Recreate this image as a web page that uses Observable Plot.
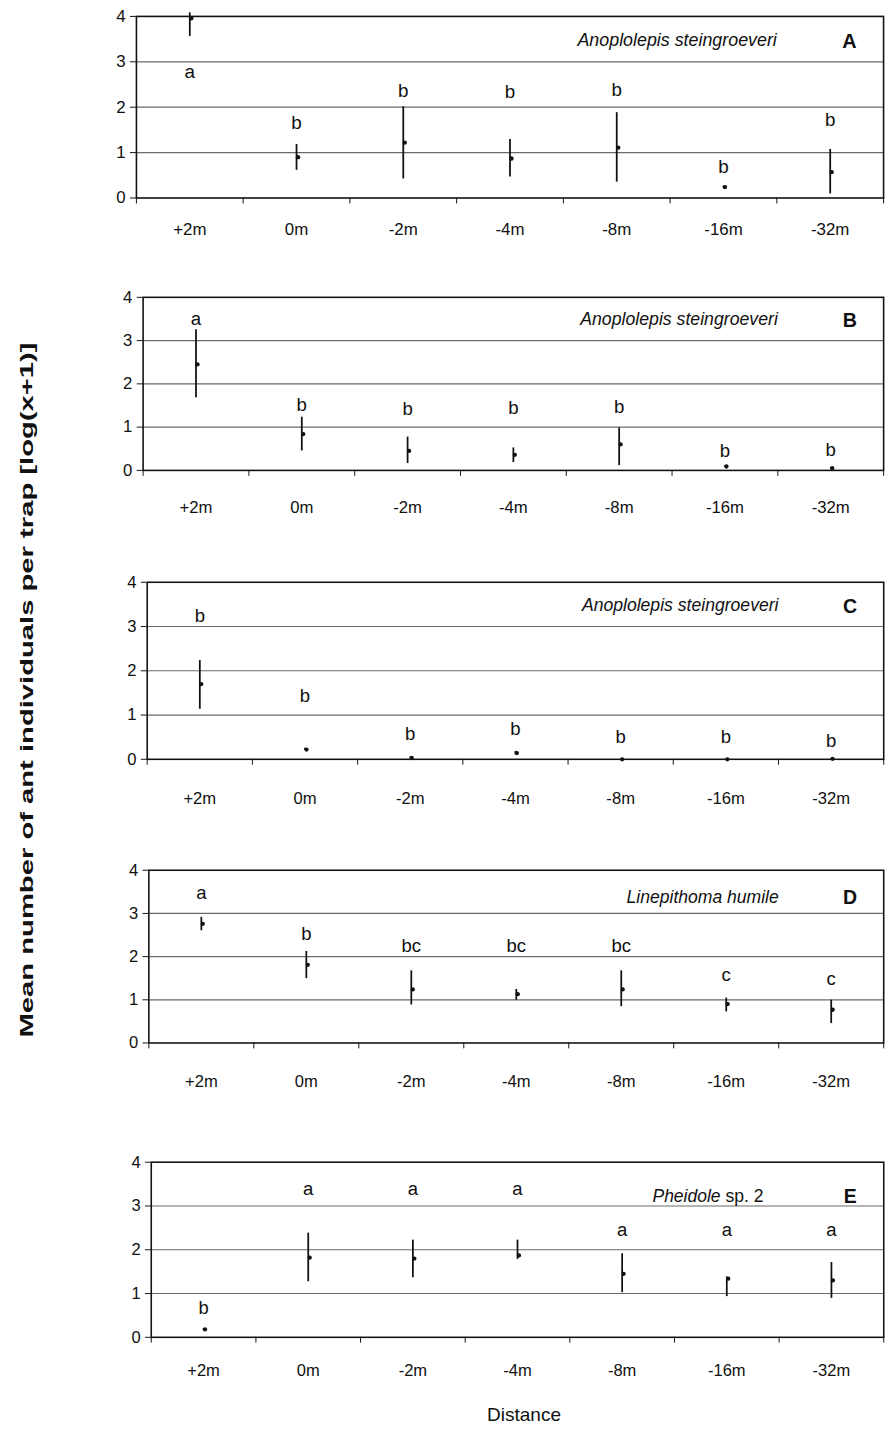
<!DOCTYPE html>
<html><head><meta charset="utf-8">
<script src="https://cdn.jsdelivr.net/npm/d3@7"></script>
<script src="https://cdn.jsdelivr.net/npm/@observablehq/plot@0.6"></script>
<style>
body{margin:0;background:#fff;overflow:hidden;}
#wrap{position:relative;width:893px;height:1430px;overflow:hidden;font-family:"Liberation Sans",Arial,sans-serif;background:#fff;}
.panel{position:absolute;left:0;}
#xtitle{position:absolute;left:0;width:1048px;text-align:center;top:1404px;font-size:19px;color:#111;}
</style></head><body><div id="wrap"><div id="xtitle">Distance</div></div>
<script>
// ---- data ----
const categories = ["+2m", "0m", "-2m", "-4m", "-8m", "-16m", "-32m"];
const yTicks = [0, 1, 2, 3, 4];
const panelIds = ["A", "B", "C", "D", "E"];
const speciesNames = ["Anoplolepis steingroeveri", "Anoplolepis steingroeveri", "Anoplolepis steingroeveri", "Linepithoma humile", "Pheidole"];

const meansA = [3.96, 0.90, 1.22, 0.87, 1.11, 0.24, 0.57];
const lowA   = [3.56, 0.61, 0.42, 0.46, 0.35, 0.22, 0.09];
const highA  = [4.08, 1.18, 2.01, 1.29, 1.88, 0.26, 1.07];
const lettersA = ["a", "b", "b", "b", "b", "b", "b"];
const letterYA = [2.78, 1.66, 2.36, 2.33, 2.39, 0.68, 1.73];

const meansB = [2.45, 0.84, 0.45, 0.36, 0.60, 0.09, 0.05];
const lowB   = [1.68, 0.45, 0.16, 0.18, 0.11, 0.07, 0.04];
const highB  = [3.25, 1.23, 0.77, 0.52, 0.98, 0.11, 0.06];
const lettersB = ["a", "b", "b", "b", "b", "b", "b"];
const letterYB = [3.50, 1.50, 1.42, 1.45, 1.47, 0.45, 0.48];

const meansC = [1.70, 0.22, 0.03, 0.14, 0.00, 0.00, 0.01];
const lowC   = [1.13, 0.20, 0.02, 0.10, 0.00, 0.00, 0.00];
const highC  = [2.23, 0.25, 0.05, 0.18, 0.00, 0.00, 0.02];
const lettersC = ["b", "b", "b", "b", "b", "b", "b"];
const letterYC = [3.23, 1.43, 0.58, 0.69, 0.51, 0.51, 0.42];

const meansD = [2.76, 1.81, 1.24, 1.13, 1.24, 0.90, 0.77];
const lowD   = [2.60, 1.49, 0.88, 0.99, 0.84, 0.72, 0.45];
const highD  = [2.91, 2.12, 1.67, 1.24, 1.67, 1.04, 0.99];
const lettersD = ["a", "b", "bc", "bc", "bc", "c", "c"];
const letterYD = [3.48, 2.53, 2.24, 2.24, 2.24, 1.58, 1.47];

const meansE = [0.18, 1.82, 1.80, 1.87, 1.45, 1.34, 1.30];
const lowE   = [0.16, 1.27, 1.36, 1.78, 1.02, 0.93, 0.89];
const highE  = [0.20, 2.38, 2.22, 2.22, 1.91, 1.38, 1.71];
const lettersE = ["b", "a", "a", "a", "a", "a", "a"];
const letterYE = [0.67, 3.38, 3.38, 3.38, 2.45, 2.45, 2.45];

// ---- layout (page pixels) ----
const layouts = [
  {left: 137, top: 16,   bottom: 199,  gap: 31},
  {left: 145, top: 297,  bottom: 473,  gap: 37},
  {left: 150, top: 582,  bottom: 763,  gap: 40},
  {left: 152, top: 870,  bottom: 1047, gap: 39},
  {left: 155, top: 1162, bottom: 1342, gap: 34}
];
const seriesSets = [
  [meansA, lowA, highA, lettersA, letterYA],
  [meansB, lowB, highB, lettersB, letterYB],
  [meansC, lowC, highC, lettersC, letterYC],
  [meansD, lowD, highD, lettersD, letterYD],
  [meansE, lowE, highE, lettersE, letterYE]
];
const plotW = 753;
const font = "'Liberation Sans', Arial, sans-serif";
const wrap = document.getElementById("wrap");

panelIds.forEach((id, p) => {
  const L = layouts[p];
  const [means, low, high, letters, letterY] = seriesSets[p];
  const rows = categories.map((c, i) => ({pos: i + 0.5, mean: means[i], lo: low[i], hi: high[i], letter: letters[i], ly: letterY[i]}));
  const mt = 10, mb = 60, mr = 10;
  const height = (L.bottom - L.top) + mt + mb;
  const width = L.left + plotW + mr;
  const speciesMarks = id === "E"
    ? [Plot.text(["Pheidole"], {x: 5.45, y: 3.22, text: d => d, textAnchor: "end", fontStyle: "italic", fontSize: 18, dx: -1}),
       Plot.text(["sp. 2"], {x: 5.45, y: 3.22, text: d => d, textAnchor: "start", fontSize: 18, dx: 4})]
    : [Plot.text([speciesNames[p]], {x: 6.0, y: id === "D" ? 3.37 : 3.48, text: d => d, textAnchor: "end", fontStyle: "italic", fontSize: 18})];
  const chart = Plot.plot({
    width, height,
    marginLeft: L.left, marginRight: mr, marginTop: mt, marginBottom: mb,
    x: {domain: [0, 7], axis: null},
    y: {domain: [0, 4], axis: null},
    style: {fontFamily: font, fontSize: "17px", background: "transparent", color: "#111"},
    marks: [
      Plot.ruleY([1, 2, 3], {stroke: "#6a6a6a", strokeWidth: 1.2}),
      Plot.frame({stroke: "#111", strokeWidth: 1.6}),
      Plot.axisY({ticks: yTicks, tickSize: 6, tickPadding: 5, label: null, fontSize: 17, tickFormat: d => String(d), stroke: "#111"}),
      Plot.axisX({ticks: d3.range(0, 8), tickSize: 6, label: null, tickFormat: () => "", stroke: "#111"}),
      Plot.axisX({ticks: rows.map(r => r.pos), tickSize: 0, label: null, fontSize: 17, tickPadding: L.gap - 6, tickFormat: d => categories[Math.floor(d)]}),
      Plot.ruleX(rows, {x: "pos", y1: "lo", y2: "hi", stroke: "#111", strokeWidth: 1.8}),
      Plot.dot(rows, {x: "pos", y: "mean", r: 2.2, fill: "#111", dx: 1.5}),
      Plot.text(rows, {x: "pos", y: "ly", text: "letter", fontSize: 19, fill: "#111"}),
      ...speciesMarks,
      Plot.text([id], {x: 6.68, y: id === "E" ? 3.2 : (id === "D" ? 3.37 : 3.45), text: d => d, fontSize: 20, fontWeight: "bold", fill: "#111"})
    ]
  });
  chart.classList.add("panel");
  chart.style.top = (L.top - mt) + "px";
  wrap.appendChild(chart);
});

// y-axis title
const ysvg = d3.select(wrap).append("svg")
  .attr("width", 50).attr("height", 1430)
  .style("position", "absolute").style("left", "0px").style("top", "0px");
ysvg.append("text")
  .attr("transform", "translate(27,690) rotate(-90)")
  .attr("text-anchor", "middle")
  .attr("dominant-baseline", "central")
  .attr("font-family", font)
  .attr("font-weight", "bold")
  .attr("font-size", 18)
  .attr("textLength", 695)
  .attr("lengthAdjust", "spacingAndGlyphs")
  .attr("fill", "#111")
  .text("Mean number of ant  individuals per trap [log(x+1)]");
</script>
</body></html>
